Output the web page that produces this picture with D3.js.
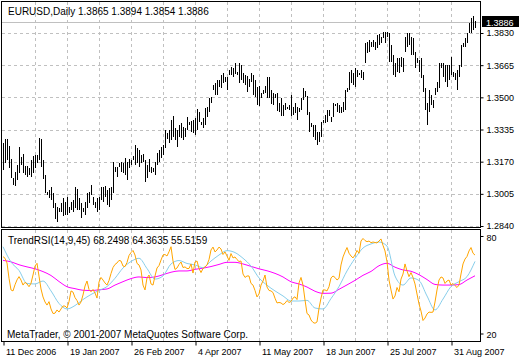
<!DOCTYPE html>
<html><head><meta charset="utf-8">
<script src="https://cdn.jsdelivr.net/npm/d3@7"></script>
<style>
body{margin:0;background:#fff}
svg{display:block}
text{font-family:"Liberation Sans",Arial,sans-serif;fill:#000}
</style>
</head><body>
<svg id="chart" width="520" height="360"></svg>
<script>
// ---------------- data ----------------
const symbolTitle = "EURUSD,Daily";
const lastOHLC = [1.3865, 1.3894, 1.3854, 1.3886];
const lastPrice = 1.3886;
const dateLabels = ["11 Dec 2006","19 Jan 2007","26 Feb 2007","4 Apr 2007","11 May 2007","18 Jun 2007","25 Jul 2007","31 Aug 2007"];
const priceTicks = [1.2840, 1.3005, 1.3170, 1.3335, 1.3500, 1.3665, 1.3830];
const indTicks = [20, 80];
const indTitle = "TrendRSI(14,9,45)";
const indLast = [68.2498, 64.3635, 55.5159];
const copyright = "MetaTrader, \u00A9 2001-2007 MetaQuotes Software Corp.";

const highs = [
1.3265,1.3286,1.3286,1.3250,1.3183,1.3086,1.3117,1.3153,1.3245,1.3194,
1.3209,1.3147,1.3147,1.3137,1.3178,1.3199,1.3204,1.3204,1.3291,1.3286,
1.3178,1.3101,1.3014,1.3024,1.3040,1.3009,1.2958,1.2937,1.2932,1.2958,
1.2983,1.2963,1.2988,1.2937,1.2963,1.2973,1.3040,1.3029,1.2983,1.2958,
1.2932,1.2963,1.3009,1.3014,1.3050,
1.2988,1.2963,1.2983,1.2988,1.3040,1.3040,1.3045,1.3024,1.3035,1.3040,
1.3168,1.3142,1.3142,1.3163,1.3168,1.3163,1.3188,1.3168,1.3183,1.3178,
1.3199,1.3255,1.3240,1.3229,1.3204,1.3209,1.3178,1.3153,1.3183,1.3142,
1.3137,1.3168,1.3214,1.3229,1.3245,1.3255,1.3332,1.3317,1.3332,
1.3383,1.3404,1.3342,1.3332,1.3358,1.3368,1.3347,1.3342,1.3399,1.3373,
1.3378,1.3383,1.3394,1.3440,1.3424,1.3373,1.3394,1.3445,1.3450,1.3496,
1.3501,1.3563,1.3573,1.3589,1.3589,1.3614,1.3625,1.3604,1.3604,1.3640,
1.3655,1.3650,1.3676,1.3630,1.3676,1.3666,1.3625,1.3614,1.3609,1.3594,
1.3625,1.3614,1.3589,
1.3553,1.3558,1.3522,1.3537,1.3558,1.3604,1.3604,1.3537,1.3522,1.3517,
1.3522,1.3471,1.3496,1.3460,1.3471,1.3450,1.3460,1.3512,1.3450,1.3471,
1.3450,1.3445,1.3496,1.3548,1.3532,1.3506,1.3424,1.3368,1.3358,1.3358,
1.3322,1.3322,1.3373,1.3383,1.3409,1.3435,1.3435,1.3399,1.3471,1.3465,
1.3471,1.3460,1.3450,1.3476,1.3537,
1.3548,1.3630,1.3640,1.3625,1.3650,1.3640,1.3625,1.3640,1.3630,1.3778,
1.3784,1.3794,1.3784,1.3794,1.3784,1.3819,1.3825,1.3809,1.3835,1.3835,
1.3835,1.3830,1.3768,1.3717,1.3676,1.3701,1.3701,1.3707,1.3701,1.3809,
1.3830,1.3830,1.3809,1.3804,1.3732,1.3701,1.3691,1.3701,1.3614,
1.3548,1.3471,1.3537,1.3512,1.3486,1.3548,1.3578,1.3676,1.3676,1.3676,
1.3666,1.3666,1.3666,1.3707,1.3630,1.3625,1.3640,1.3666,1.3768,1.3778,
1.3804,1.3830,1.3881,1.3907,1.3917,1.3894
];
const lows = [
1.3127,1.3163,1.3178,1.3137,1.3086,1.3050,1.3045,1.3076,1.3112,1.3153,
1.3112,1.3101,1.3091,1.3101,1.3091,1.3112,1.3137,1.3163,1.3178,1.3142,
1.3081,1.3009,1.2999,1.2983,1.2973,1.2932,1.2876,1.2860,1.2911,1.2911,
1.2891,1.2896,1.2896,1.2906,1.2922,1.2911,1.2932,1.2922,1.2922,1.2881,
1.2911,1.2896,1.2932,1.2958,1.2999,
1.2947,1.2932,1.2911,1.2922,1.2973,1.2963,1.2988,1.2947,1.2937,1.2973,
1.3009,1.3117,1.3091,1.3142,1.3117,1.3112,1.3101,1.3076,1.3137,1.3153,
1.3178,1.3153,1.3163,1.3142,1.3163,1.3168,1.3065,1.3086,1.3117,1.3112,
1.3117,1.3101,1.3153,1.3168,1.3188,1.3204,1.3240,1.3286,1.3265,
1.3281,1.3296,1.3281,1.3245,1.3296,1.3291,1.3281,1.3296,1.3332,1.3358,
1.3322,1.3317,1.3306,1.3332,1.3373,1.3358,1.3342,1.3358,1.3399,1.3424,
1.3471,1.3537,1.3512,1.3512,1.3553,1.3548,1.3573,1.3578,1.3537,1.3614,
1.3614,1.3604,1.3619,1.3614,1.3573,1.3589,1.3573,1.3563,1.3527,1.3553,
1.3578,1.3512,1.3501,
1.3460,1.3455,1.3496,1.3517,1.3522,1.3496,1.3496,1.3465,1.3460,1.3496,
1.3430,1.3424,1.3404,1.3404,1.3435,1.3440,1.3435,1.3404,1.3409,1.3419,
1.3383,1.3424,1.3435,1.3486,1.3501,1.3409,1.3322,1.3347,1.3296,1.3281,
1.3255,1.3271,1.3296,1.3368,1.3368,1.3373,1.3404,1.3373,1.3399,1.3455,
1.3424,1.3419,1.3419,1.3424,1.3435,
1.3527,1.3537,1.3573,1.3563,1.3553,1.3604,1.3614,1.3599,1.3589,1.3676,
1.3727,1.3732,1.3758,1.3758,1.3742,1.3753,1.3768,1.3778,1.3804,1.3778,
1.3809,1.3681,1.3681,1.3614,1.3604,1.3630,1.3625,1.3655,1.3630,1.3732,
1.3758,1.3768,1.3717,1.3717,1.3650,1.3676,1.3630,1.3599,1.3527,
1.3435,1.3358,1.3424,1.3460,1.3445,1.3512,1.3527,1.3548,1.3650,1.3604,
1.3578,1.3553,1.3589,1.3614,1.3604,1.3589,1.3537,1.3604,1.3655,1.3758,
1.3758,1.3778,1.3830,1.3830,1.3845,1.3854
];
// TrendRSI main line (orange), one value per bar
const rsi = [
67.3,66.3,63.4,54,46.8,46.2,50,53,55,52.9,
49.8,51.5,50.5,48.8,50.9,56,61.5,63.2,55.3,47.4,
42.5,39.4,37.5,39.6,35.1,32.3,32.5,34.5,33.2,35.1,
36.9,36.9,35.7,39.6,46.2,45.5,42.1,40.3,37.5,39.4,
43.7,49.2,52.3,47.1,45.7,47.1,44.9,41.8,51.7,54.5,
52.9,51.1,49.8,52.6,56.9,60.6,62.5,63.4,65,64.6,
61.5,61.2,63.7,68,69.8,71.1,68.3,63.1,62.2,59.1,
49.8,46.8,54.2,56,50.5,49.8,55.4,60.3,61.8,65.2,
68.3,68.6,67.7,70.3,73.4,64.6,59.4,60.3,62.5,64,
60.6,61,60,60,62.8,57.2,64,64.6,60,57.5,
60,61,62.2,65.5,71.4,73.2,70.2,71.4,73.2,72,
68.6,70.2,67.7,65,69.2,66.5,67.1,65.5,64.3,64.6,
56.6,54.5,55.4,55.4,50.8,49.8,46.5,42.5,44.3,49.8,
52.3,56,48.6,46.5,46.2,45.2,41.7,38.8,39.1,38.8,
37.8,38.6,40.3,39.1,39.7,41.8,42.6,40.9,51.1,54.5,
49.8,40.6,32.3,31.4,28.3,26.8,26.3,27.1,35.5,41.8,
46.8,46.8,46.2,48.8,54.2,55.4,54.5,52.9,54,62.2,
67.1,70.2,72.9,69.4,67.7,66.5,68.3,71.1,69.4,76.9,
78.5,77.2,76.5,76.9,75.9,76.3,76,75.7,76.9,78.2,
74.2,70.8,64.2,52.9,46.8,41.2,43.1,48.3,45.7,53.5,
56.6,62.8,58.5,55,57.5,54.5,50.5,44.3,38.2,33.8,
28,29.5,32,33.2,33,33.2,39.4,46.8,52.9,54.8,
54.2,50.8,52.3,52.9,49.8,50.8,49.5,48.3,49.8,56.6,
62.8,65.8,67.4,70.8,72.9,69.4,68.25
];
// signal (light blue) and trend (magenta) lines, one value every 4 bars
const lineStep = 4;
const rsiSignal = [
73.4,64,58.8,50.8,50.5,52.3,46.2,38.5,35.1,37.2,
40.9,44,46.5,48.9,54,60.3,64.3,66.3,60,53.5,
55.4,62.8,64.9,63.1,62.2,60.5,64.6,68.3,71,69.8,
66.3,61.5,54.2,49.7,46.2,43.1,40,40,40.4,35.7,
35.1,41.5,48.9,58.5,66.2,72.6,75.1,76.3,73.8,55.4,
49.8,54.2,52.6,43.1,34.5,41.2,48.9,51.9,55,64.36
];
const rsiTrend = [
65.0,64.1,62.3,61.0,59.8,58.1,55.7,52,48.8,47.6,
46.6,46.4,46.9,47.4,49.8,51.9,53.8,54.8,54.4,54.8,
56.2,57.7,58.5,58.5,59.5,60.2,61.2,62.5,63.8,63.8,
62.8,61.3,59.8,58.6,57,54.8,51.8,50.5,48.6,46,
44.7,44.8,47.2,49.9,52.7,55.8,58.2,61.7,63.2,60.8,
59.1,58.3,56.2,53.2,50.2,49.8,49.8,50.1,52.9,55.52
];

// ---------------- layout ----------------
const W = 520, H = 360;
const main = {l:1, r:480, t:1, b:227};
const ind  = {l:1, r:480, t:229, b:341};
const gridColor = "#c0c0c0";
const labelStep = 32, gridStep = 16;

const svg = d3.select("#chart");
const N = highs.length;
const x = d3.scaleLinear().domain([0, N - 1]).range([3, 475]);
const yP = d3.scaleLinear().domain([1.2840, 1.3830]).range([226, 33]);
const yI = d3.scaleLinear().domain([20, 80]).range([333.5, 236]);

svg.append("rect").attr("width", W).attr("height", H).attr("fill", "#fff");

const defs = svg.append("defs");
defs.append("clipPath").attr("id","clipMain").append("rect")
  .attr("x", main.l+1).attr("y", main.t+1).attr("width", main.r-main.l-1).attr("height", main.b-main.t-1);
defs.append("clipPath").attr("id","clipInd").append("rect")
  .attr("x", ind.l+1).attr("y", ind.t+1).attr("width", ind.r-ind.l-1).attr("height", ind.b-ind.t-1);

// grids
const gridIdx = d3.range(gridStep, N, gridStep);
function vGrid(panel){
  svg.append("g").selectAll("line").data(gridIdx).join("line")
    .attr("x1", d => Math.round(x(d)) + 0.5).attr("x2", d => Math.round(x(d)) + 0.5)
    .attr("y1", panel.t + 1).attr("y2", panel.b)
    .attr("stroke", gridColor).attr("stroke-dasharray", "3,3");
}
vGrid(main); vGrid(ind);
svg.append("g").selectAll("line").data(priceTicks).join("line")
  .attr("x1", main.l + 1).attr("x2", main.r)
  .attr("y1", d => Math.round(yP(d)) + 0.5).attr("y2", d => Math.round(yP(d)) + 0.5)
  .attr("stroke", gridColor).attr("stroke-dasharray", "3,3");

// current price line
svg.append("line")
  .attr("x1", main.l + 1).attr("x2", main.r)
  .attr("y1", Math.round(yP(lastPrice)) + 0.5).attr("y2", Math.round(yP(lastPrice)) + 0.5)
  .attr("stroke", "#c0c0c0");

// OHLC bars (high-low)
svg.append("g").attr("clip-path","url(#clipMain)").selectAll("rect").data(highs).join("rect")
  .attr("x", (d,i) => Math.round(x(i)))
  .attr("y", d => Math.round(yP(d)))
  .attr("width", 1)
  .attr("height", (d,i) => Math.max(1, Math.round(yP(lows[i])) - Math.round(yP(d))))
  .attr("fill", "#000");

// indicator lines
const gI = svg.append("g").attr("clip-path","url(#clipInd)");
const lineGen = d3.line().x(d => d[0]).y(d => d[1]);
gI.append("path").datum(rsiTrend.map((v,k) => [x(k*lineStep), yI(v)]))
  .attr("d", lineGen.curve(d3.curveMonotoneX)).attr("fill","none").attr("stroke","#ff00ff").attr("stroke-width",1);
gI.append("path").datum(rsiSignal.map((v,k) => [x(k*lineStep), yI(v)]))
  .attr("d", d3.line().curve(d3.curveMonotoneX)(rsiSignal.map((v,k) => [x(k*lineStep), yI(v)])))
  .attr("fill","none").attr("stroke","#87ceeb").attr("stroke-width",1);
gI.append("path")
  .attr("d", d3.line()(rsi.map((v,i) => [x(i), yI(v)])))
  .attr("fill","none").attr("stroke","#ffa500").attr("stroke-width",1);

// panel borders
[main, ind].forEach(p => {
  svg.append("rect").attr("x", p.l + 0.5).attr("y", p.t + 0.5)
    .attr("width", p.r - p.l).attr("height", p.b - p.t)
    .attr("fill","none").attr("stroke","#000");
});

// price axis
const pAxis = svg.append("g").attr("transform", `translate(${main.r + 0.5},0)`)
  .call(d3.axisRight(yP).tickValues(priceTicks).tickFormat(d3.format(".4f")).tickSize(3).tickSizeOuter(0));
pAxis.select(".domain").remove();
pAxis.selectAll(".tick line").attr("stroke","#000");
pAxis.selectAll(".tick text").attr("x", 6).attr("font-size", 9).attr("font-family", "Liberation Sans, Arial, sans-serif").attr("fill","#000");

// current price label
const lp = Math.round(yP(lastPrice));
svg.append("rect").attr("x", main.r + 2).attr("y", lp - 6).attr("width", 37).attr("height", 11).attr("fill","#000");
svg.append("text").attr("x", main.r + 6).attr("y", lp + 3.5).attr("font-size", 9).style("fill","#fff")
  .text(d3.format(".4f")(lastPrice));

// indicator axis
const iAxis = svg.append("g").attr("transform", `translate(${ind.r + 0.5},0)`)
  .call(d3.axisRight(yI).tickValues(indTicks).tickFormat(d3.format("d")).tickSize(3).tickSizeOuter(0));
iAxis.select(".domain").remove();
iAxis.selectAll(".tick line").attr("stroke","#000");
iAxis.selectAll(".tick text").attr("x", 6).attr("dy", "0.45em").attr("font-size", 9).attr("font-family", "Liberation Sans, Arial, sans-serif").attr("fill","#000");

// date axis
const dIdx = d3.range(0, N, labelStep);
const dAxis = svg.append("g").attr("transform", `translate(0.5,${ind.b + 0.5})`)
  .call(d3.axisBottom(x).tickValues(dIdx).tickFormat((d,i) => dateLabels[i]).tickSize(4).tickSizeOuter(0));
dAxis.select(".domain").remove();
dAxis.selectAll(".tick line").attr("stroke","#000");
dAxis.selectAll(".tick text").attr("text-anchor","start").attr("x", 2).attr("y", 13).attr("dy", 0)
  .attr("font-size", 9).attr("font-family", "Liberation Sans, Arial, sans-serif").attr("fill","#000");

// titles
svg.append("text").attr("x", 8).attr("y", 15).attr("font-size", 10)
  .text(symbolTitle + "  " + lastOHLC.map(d3.format(".4f")).join(" "));
svg.append("text").attr("x", 8).attr("y", 244).attr("font-size", 10)
  .text(indTitle + " " + indLast.map(d3.format(".4f")).join(" "));
svg.append("text").attr("x", 7).attr("y", 338).attr("font-size", 10).text(copyright);
</script>
</body></html>
